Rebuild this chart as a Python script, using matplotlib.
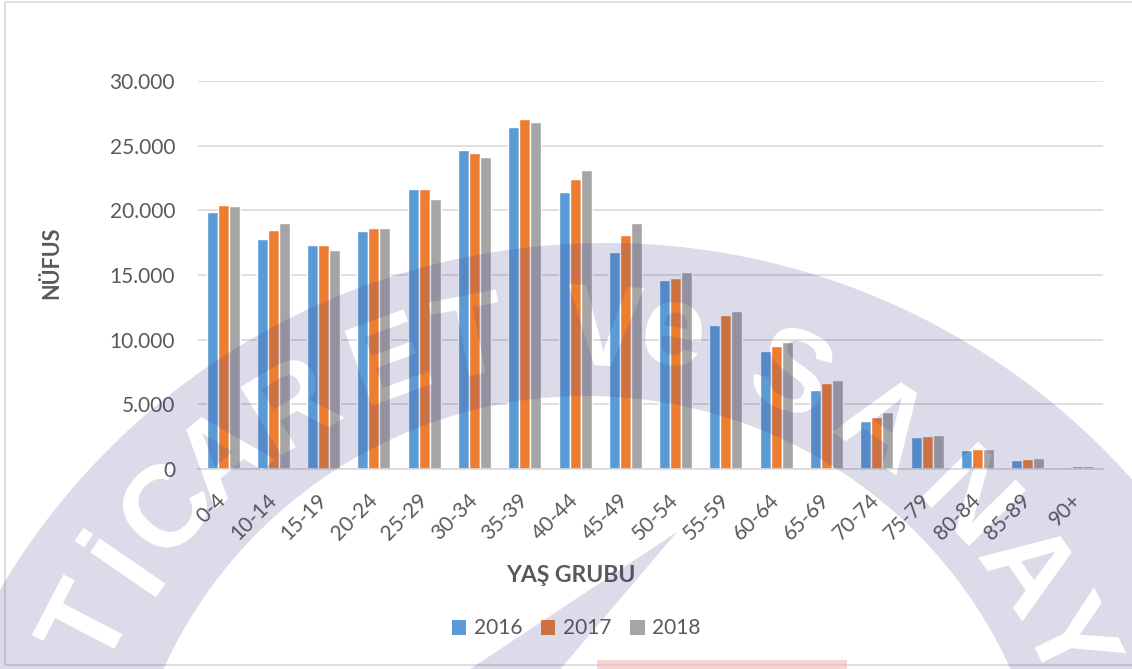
import numpy as np
import matplotlib
matplotlib.use('Agg')
import matplotlib.pyplot as plt
from matplotlib.path import Path
from matplotlib.patches import PathPatch, Rectangle
from matplotlib.textpath import TextPath
from matplotlib.font_manager import FontProperties
from matplotlib.transforms import Affine2D, IdentityTransform
from matplotlib.ticker import FuncFormatter

plt.rcParams['font.family'] = ['Lato', 'DejaVu Sans']

# data
age_groups = ['0-4', '10-14', '15-19', '20-24', '25-29', '30-34', '35-39', '40-44', '45-49',
              '50-54', '55-59', '60-64', '65-69', '70-74', '75-79', '80-84', '85-89', '90+']
years = ['2016', '2017', '2018']
pop_2016 = [19900, 17800, 17300, 18400, 21650, 24650, 26450, 21450, 16750,
            14600, 11100, 9150, 6100, 3700, 2450, 1500, 700, 150]
pop_2017 = [20400, 18500, 17350, 18600, 21650, 24450, 27100, 22400, 18100,
            14800, 11900, 9500, 6650, 4000, 2550, 1550, 750, 200]
pop_2018 = [20350, 19050, 16950, 18600, 20900, 24100, 26850, 23150, 19000,
            15200, 12200, 9800, 6900, 4400, 2650, 1550, 820, 230]
colors = ['#5B9BD5', '#ED7D31', '#A5A5A5']

# watermark letters (scanned page background) and their angle on the arc
wm_letters = ['T', 'İ', 'C', 'A', 'R', 'E', 'T', 'V', 'e', 'S', 'A', 'N', 'A', 'Y', 'İ']
wm_angles = [152.5, 145.5, 138.0, 130.0, 121.0, 110.0, 101.0, 87.0, 80.0, 67.0, 56.0, 44.5, 34.5, 26.0, 18.0]

W, H = 1132, 669
TXT = '#595959'
GRID = '#D9D9D9'

fig = plt.figure(figsize=(W / 100, H / 100), dpi=100)
ax = fig.add_axes([198 / W, 1 - 469 / H, (1103 - 198) / W, (469 - 81) / H])

x = np.arange(len(age_groups))
bw = 0.219
for i, (vals, c, lab) in enumerate(zip([pop_2016, pop_2017, pop_2018], colors, years)):
    ax.bar(x + (i - 1) * bw, vals, bw, color=c, edgecolor='white', linewidth=1.0, label=lab, zorder=2)

ax.set_xlim(-0.5, len(age_groups) - 0.5)
ax.set_ylim(0, 30000)
ax.set_yticks(range(0, 30001, 5000))
ax.yaxis.set_major_formatter(FuncFormatter(lambda v, p: f'{int(v):,}'.replace(',', '.')))
ax.grid(axis='y', color=GRID, lw=1.2, zorder=0)
ax.set_axisbelow(True)
for s in ['top', 'right', 'left']:
    ax.spines[s].set_visible(False)
ax.spines['bottom'].set_color(GRID)
ax.spines['bottom'].set_linewidth(1.2)
ax.tick_params(length=0, colors=TXT)
ax.tick_params(axis='y', labelsize=15, pad=16.5)
ax.set_xticks(x)
ax.set_xticklabels(age_groups, rotation=45, ha='right', va='center', rotation_mode='anchor', fontsize=15)
ax.tick_params(axis='x', pad=20)

fig.text(52 / W, 1 - 263 / H, 'NÜFUS', rotation=90, ha='center', va='center',
         fontsize=15.5, fontweight='bold', color=TXT)
fig.text(571 / W, 1 - 575 / H, 'YAŞ GRUBU', ha='center', va='center',
         fontsize=16.5, fontweight='bold', color=TXT)

handles = [Rectangle((0, 0), 1, 1, fc=c) for c in colors]
ax.legend(handles, years, loc='center', bbox_to_anchor=(576 / W, 1 - 628.5 / H),
          bbox_transform=fig.transFigure, ncol=3, frameon=False, fontsize=15,
          handlelength=0.7, handleheight=0.7, handletextpad=0.35, columnspacing=0.9,
          labelcolor=TXT)

# outer frame of the chart
fig.add_artist(Rectangle((5, 4), 1200, 663, transform=IdentityTransform(),
                         fill=False, ec=GRID, lw=1.2))


# faint arc watermark over the chart, letters cut out of the band
def arc(cx, cy, r, a0, a1, n=240):
    t = np.radians(np.linspace(a0, a1, n))
    return np.column_stack([cx + r * np.cos(t), cy + r * np.sin(t)])


def signed_area(p):
    return 0.5 * np.sum(p[:-1, 0] * p[1:, 1] - p[1:, 0] * p[:-1, 1])


band = np.vstack([arc(606, H - 946, 703, -20, 200), arc(587, H - 861, 465, 200, -20)])
polys = [band, np.array([[677, H - 532], [455, -10], [552, -10]])]

prop = FontProperties(family='Liberation Sans', weight='bold')
for ch, ang in zip(wm_letters, wm_angles):
    tp = TextPath((0, 0), ch, size=116, prop=prop)
    lo, hi = tp.vertices.min(0), tp.vertices.max(0)
    a = np.radians(ang)
    tr = (Affine2D().translate(-(lo[0] + hi[0]) / 2, -(lo[1] + hi[1]) / 2)
          .rotate_deg(ang - 90)
          .translate(575 + 555 * np.cos(a), H - 880 + 555 * np.sin(a)))
    lp = [np.asarray(p) for p in tp.to_polygons(transform=tr)]
    areas = [signed_area(p) for p in lp]
    if areas[int(np.argmax(np.abs(areas)))] > 0:
        lp = [p[::-1] for p in lp]
    polys.extend(lp)

verts, codes = [], []
for p in polys:
    verts.extend(p.tolist())
    verts.append(p[0].tolist())
    codes += [Path.MOVETO] + [Path.LINETO] * (len(p) - 1) + [Path.CLOSEPOLY]

fig.add_artist(PathPatch(Path(verts, codes), transform=IdentityTransform(),
                         fc=(60 / 255, 60 / 255, 140 / 255), ec='none', alpha=0.185, zorder=5))
fig.add_artist(Rectangle((597, 0), 250, 9, transform=IdentityTransform(),
                         fc='#F2B8B8', ec='none', alpha=0.6, zorder=5))

fig.savefig('out.png', dpi=100)
